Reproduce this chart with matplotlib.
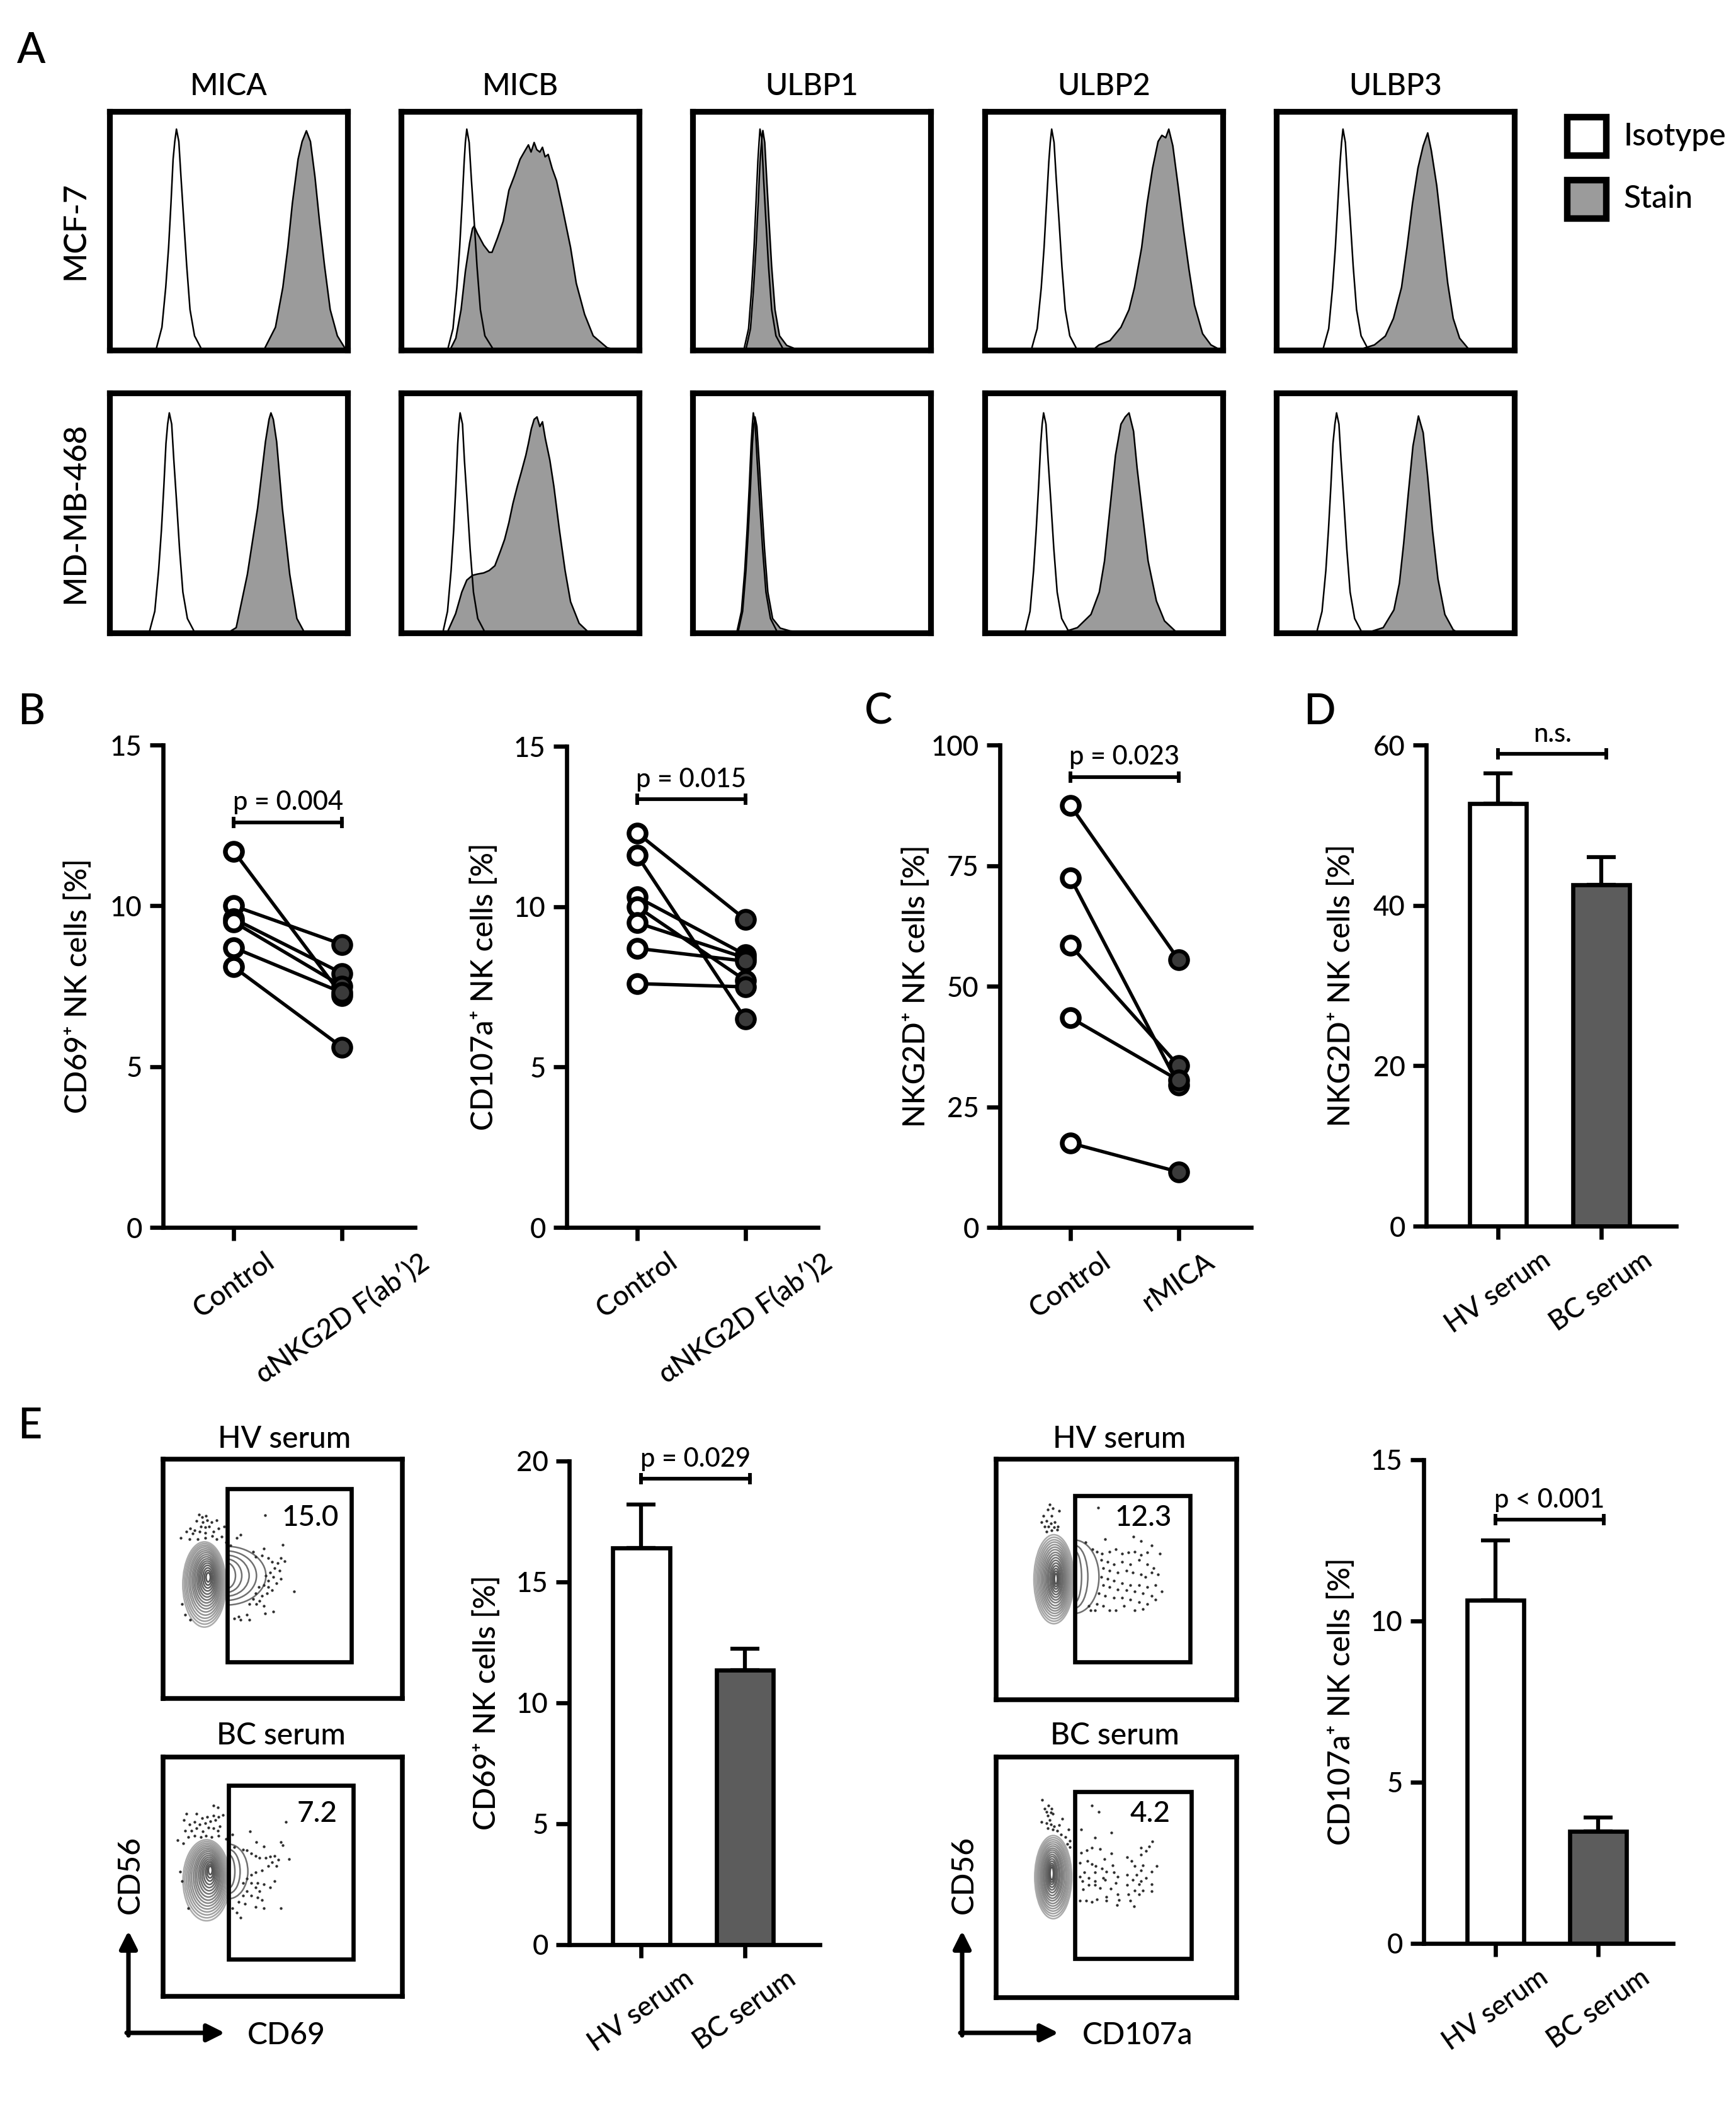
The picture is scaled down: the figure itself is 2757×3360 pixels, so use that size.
import matplotlib.pyplot as plt
import numpy as np
from matplotlib.patches import Ellipse, Arc, Rectangle

plt.rcParams['font.family'] = ['Lato', 'DejaVu Sans']
plt.rcParams['font.weight'] = 'medium'

# ---------------- A: histograms (x, y in % of the plot box) ----------------
markers = ['MICA', 'MICB', 'ULBP1', 'ULBP2', 'ULBP3']
cell_lines = ['MCF-7', 'MD-MB-468']

mica_mcf7_iso_x = [18.0, 19.6, 22.0, 23.6, 24.8, 25.8, 26.7, 27.4, 28.1, 29.1, 30.0, 31.2, 32.4, 33.8, 35.7, 38.5]
mica_mcf7_iso_y = [0, 0.5, 9.6, 26.3, 43, 61.5, 80, 87.4, 92.6, 87.4, 72.6, 54, 35.5, 17, 6, 0.7]
mica_mcf7_st_x = [65.0, 69.7, 72.8, 74.9, 76.8, 79.2, 80.9, 82.7, 84.4, 86.3, 88.2, 90.3, 92.7, 95.7, 98.6]
mica_mcf7_st_y = [0.4, 9.6, 26.3, 43, 61.5, 80, 87.4, 91.9, 87.4, 72.6, 54, 35.5, 17, 6, 1.3]
mica_mda_iso_x = [16.6, 19.0, 20.6, 21.8, 22.8, 23.7, 24.4, 25.1, 26.1, 27.0, 28.2, 29.4, 30.8, 32.7, 35.5]
mica_mda_iso_y = [0, 9, 26, 43, 61, 79, 87, 91.7, 87, 72, 54, 35, 17, 6, 0.7]
mica_mda_st_x = [49.6, 53.2, 57.9, 62.2, 65.5, 67.0, 67.8, 68.8, 70.2, 72.6, 75.7, 78.7, 81.6]
mica_mda_st_y = [0, 2.2, 24.4, 52, 79.7, 89, 91.7, 89, 79.7, 52, 24.4, 6, 0.7]

micb_mcf7_iso_x = [19.5, 21.8, 23.4, 24.6, 25.6, 26.5, 27.0, 27.6, 28.6, 29.5, 30.7, 31.9, 33.3, 35.2, 38.5]
micb_mcf7_iso_y = [0, 9, 26, 43, 61, 79, 87, 92.6, 87, 72, 54, 35, 17, 6, 0.7]
micb_mcf7_st_x = [20.5, 23.0, 25.2, 27.0, 28.8, 30.0, 30.7, 32.0, 34.7, 37.0, 38.2, 40.5, 42.9, 45.3, 47.6,
                  50.0, 52.3, 53.5, 54.6, 55.9, 57.0, 58.3, 59.4, 60.5, 61.8, 63.5, 65.3, 67.7, 71.2, 73.6,
                  77.1, 80.7, 86.6, 91.3]
micb_mcf7_st_y = [0, 5, 17, 33, 45, 51, 52, 49, 44, 41, 41, 47, 54, 67, 73,
                  80, 84, 86, 83, 87, 84, 83, 85, 81, 82, 76, 71, 60, 43, 28,
                  15, 6, 1, 0]
micb_mda_iso_x = [17.5, 19.5, 21.0, 22.1, 23.0, 23.8, 24.3, 24.8, 25.8, 26.6, 27.8, 29.0, 30.4, 32.2, 35.0]
micb_mda_iso_y = [0, 9, 26, 43, 61, 79, 87, 91.7, 87, 72, 54, 35, 17, 6, 0.7]
micb_mda_st_x = [19.3, 22.9, 25.5, 27.6, 30.0, 32.0, 34.7, 37.0, 39.4, 41.7, 43.5, 45.3, 47.0, 48.8, 50.5,
                 52.4, 53.5, 54.7, 55.9, 57.1, 58.3, 59.4, 60.6, 62.5, 64.2, 66.5, 68.9, 71.2, 74.8, 78.3, 81.8]
micb_mda_st_y = [0, 8, 17, 22, 24, 24.5, 25, 26, 28, 34, 39, 46, 54, 61, 67,
                 74, 79, 85, 89, 90, 86, 88, 81, 72, 61, 43, 26, 13, 4, 0.7, 0]

ulbp1_mcf7_iso_x = [21.5, 23.5, 24.8, 25.8, 26.6, 27.4, 27.9, 28.3, 29.0, 29.8, 30.8, 31.9, 33.2, 35.0, 38.0]
ulbp1_mcf7_iso_y = [0, 9, 26, 43, 61, 79, 87, 92.6, 89, 72, 54, 35, 17, 6, 0.5]
ulbp1_mcf7_st_x = [22.3, 24.3, 25.6, 26.6, 27.5, 28.3, 28.9, 29.5, 30.3, 31.1, 32.1, 33.2, 34.6, 36.5, 39.5, 42.5, 45.0]
ulbp1_mcf7_st_y = [0, 9, 26, 43, 61, 79, 87, 92, 87, 72, 54, 35, 17, 6, 2, 0.8, 0]
ulbp1_mda_iso_x = [18.5, 20.5, 21.9, 22.9, 23.8, 24.6, 25.1, 25.5, 26.3, 27.1, 28.2, 29.4, 30.8, 32.7, 35.5]
ulbp1_mda_iso_y = [0, 9, 26, 43, 61, 79, 87, 91.7, 87, 72, 54, 35, 17, 6, 0.5]
ulbp1_mda_st_x = [19.0, 21.0, 22.4, 23.4, 24.3, 25.1, 25.7, 26.2, 27.0, 27.9, 29.0, 30.2, 31.6, 33.6, 36.8, 41.0, 46.0, 49.0]
ulbp1_mda_st_y = [0, 9, 26, 43, 61, 79, 87, 90, 86, 72, 54, 35, 17, 6, 2, 0.8, 0.4, 0]

ulbp2_mcf7_iso_x = [19.5, 22.0, 23.7, 24.9, 25.9, 26.9, 27.5, 28.1, 29.1, 30.0, 31.2, 32.4, 33.8, 35.7, 38.5]
ulbp2_mcf7_iso_y = [0, 9, 26, 43, 61, 79, 87, 92.6, 87, 72, 54, 35, 17, 6, 0.7]
ulbp2_mcf7_st_x = [45.8, 48.0, 52.6, 57.2, 60.6, 62.9, 65.9, 68.2, 70.5, 72.8, 74.4, 76.0, 77.3, 79.0, 81.2,
                   83.5, 85.8, 88.1, 91.5, 95.0, 98.4]
ulbp2_mcf7_st_y = [0.4, 2.2, 4, 9.6, 17, 26.3, 43, 61.5, 76.3, 87.4, 90, 89, 92.6, 85.6, 68.9,
                   50.4, 33.7, 18.9, 6.9, 2.2, 0.4]
ulbp2_mda_iso_x = [16.8, 19.0, 20.5, 21.6, 22.6, 23.5, 24.1, 24.7, 25.7, 26.6, 27.8, 29.0, 30.4, 32.3, 35.2]
ulbp2_mda_iso_y = [0, 9, 26, 43, 61, 79, 87, 91.7, 87, 72, 54, 35, 17, 6, 0.7]
ulbp2_mda_st_x = [33.2, 38.9, 44.6, 48.1, 50.3, 52.6, 54.9, 57.2, 59.0, 60.6, 62.5, 64.0, 66.4, 68.6, 72.1, 75.5, 80.1]
ulbp2_mda_st_y = [0.4, 2.2, 7.7, 17, 30, 52, 74, 87, 90, 91.7, 84, 68.6, 48.3, 30, 13.3, 5, 0.7]

ulbp3_mcf7_iso_x = [19.5, 22.0, 23.6, 24.8, 25.8, 26.8, 27.4, 28.0, 29.0, 29.9, 31.1, 32.3, 33.7, 35.6, 38.4]
ulbp3_mcf7_iso_y = [0, 9, 26, 43, 61, 79, 87, 92.6, 87, 72, 54, 35, 17, 6, 0.7]
ulbp3_mcf7_st_x = [35.5, 41.2, 45.8, 49.2, 52.6, 54.9, 57.2, 59.5, 61.7, 63.6, 65.1, 67.4, 69.7, 72.0, 74.3, 77.0, 80.6]
ulbp3_mcf7_st_y = [0.4, 2.2, 5.9, 13.3, 26.3, 43, 61.5, 76.3, 85.6, 91, 83.7, 68.9, 48.5, 28.1, 13.3, 5, 0.7]
ulbp3_mda_iso_x = [16.9, 19.2, 20.8, 21.9, 22.9, 23.8, 24.6, 25.3, 26.3, 27.2, 28.4, 29.6, 31.0, 32.9, 35.7]
ulbp3_mda_iso_y = [0, 9, 26, 43, 61, 79, 87, 91.7, 87, 72, 54, 35, 17, 6, 0.7]
ulbp3_mda_st_x = [39.2, 44.9, 49.4, 51.7, 53.5, 55.4, 57.4, 59.7, 61.7, 63.6, 65.6, 67.9, 70.8, 74.3, 76.5]
ulbp3_mda_st_y = [0.4, 2.2, 9.6, 20.7, 37.3, 57.6, 77.9, 90.4, 83.4, 65, 42.8, 22.5, 7.7, 1.3, 0]

# ---------------- B / C: paired values ----------------
paired_groups = ['Control', 'αNKG2D F(ab′)2']
cd69_control = [11.7, 10.0, 9.6, 9.5, 8.7, 8.1]
cd69_anti = [7.2, 8.8, 7.9, 7.5, 7.3, 5.6]
cd107_control = [12.3, 11.6, 10.3, 10.0, 9.5, 8.7, 7.6]
cd107_anti = [9.6, 6.5, 8.5, 7.7, 8.4, 8.3, 7.5]
rmica_groups = ['Control', 'rMICA']
nkg2d_control = [87.5, 72.5, 58.5, 43.5, 17.5]
nkg2d_rmica = [55.5, 29.5, 33.5, 30.5, 11.5]

# ---------------- D / E: bar means + SEM ----------------
serum_groups = ['HV serum', 'BC serum']
nkg2d_serum_mean = [52.7, 42.6]
nkg2d_serum_sem = [3.8, 3.4]
cd69_serum_mean = [16.4, 11.35]
cd69_serum_sem = [1.8, 0.9]
cd107_serum_mean = [10.65, 3.47]
cd107_serum_sem = [1.85, 0.43]

# ---------------- E: flow plots (plot units, y measured from top) ----------------
hv69_gate = [305, 140, 898, 965]
bc69_gate = [312, 135, 905, 963]
hv107_gate = [375, 175, 925, 965]
bc107_gate = [375, 165, 930, 960]
gate_values = ['15.0', '7.2', '12.3', '4.2']

hv69_cx = [197, 198, 199, 200, 202, 203, 205, 206, 207, 209, 210, 211, 212, 213, 214, 215]
hv69_cy = [597, 594, 591, 588, 585, 582, 579, 577, 575, 573, 571, 569, 567, 566, 565, 563]
hv69_rx = [103, 97, 91, 85, 79, 73, 67, 61, 55, 49, 43, 37, 31, 24, 17, 10]
hv69_ry = [203, 192, 181, 170, 158, 146, 134, 122, 110, 98, 86, 74, 61, 48, 35, 22]
hv69_tail_rx = [190, 145, 110, 75, 45]
hv69_tail_ry = [140, 118, 98, 80, 62]
bc69_cx = [207, 208, 209, 210, 211, 212, 214, 215, 216, 218, 219, 220, 221, 223, 224, 225]
bc69_cy = [587, 584, 581, 578, 575, 572, 569, 566, 563, 560, 557, 554, 551, 547, 544, 540]
bc69_rx = [112, 105, 98, 91, 84, 77, 70, 63, 56, 49, 42, 35, 28, 21, 15, 9]
bc69_ry = [193, 182, 171, 160, 149, 138, 127, 116, 104, 92, 80, 68, 56, 44, 32, 20]
bc69_tail_rx = [92, 55, 30]
bc69_tail_ry = [130, 105, 80]
hv107_cx = [275, 276, 277, 278, 279, 280, 281, 282, 283, 284, 284, 285, 285, 285, 285, 285]
hv107_cy = [572, 572, 572, 571, 571, 571, 571, 571, 570, 570, 570, 570, 570, 570, 570, 570]
hv107_rx = [95, 89, 83, 77, 71, 65, 59, 53, 47, 41, 35, 29, 23, 17, 12, 7]
hv107_ry = [212, 200, 188, 176, 164, 152, 140, 127, 114, 101, 88, 75, 62, 49, 37, 25]
hv107_tail_rx = [118, 65, 35]
hv107_tail_ry = [175, 150, 125]
bc107_cx = [272, 272, 271, 271, 270, 270, 269, 268, 268, 267, 267, 266, 266, 265, 265, 265]
bc107_cy = [572, 571, 570, 569, 568, 567, 566, 564, 563, 562, 560, 559, 558, 557, 556, 555]
bc107_rx = [88, 83, 78, 73, 68, 62, 56, 50, 44, 38, 32, 26, 21, 16, 12, 8]
bc107_ry = [198, 187, 176, 165, 154, 143, 132, 121, 110, 98, 86, 74, 62, 50, 40, 30]
bc107_tail_rx = []
bc107_tail_ry = []

hv69_dots_x = [170, 185, 205, 160, 190, 210, 230, 255, 180, 200, 220, 130, 150, 175, 200, 240, 265, 110, 140, 85,
               125, 165, 200, 235, 255, 280, 290, 350, 370, 300, 320,
               485, 570, 480, 430, 440, 470, 500, 520, 545, 560, 580, 530, 555, 510, 490, 525, 500, 540, 560, 480,
               500, 520, 495, 470, 460, 430, 410, 445, 480, 525, 485, 400, 360, 340, 370, 410, 625, 455, 440,
               90, 105, 130]
hv69_dots_y = [265, 275, 270, 295, 300, 290, 300, 290, 320, 325, 320, 330, 340, 345, 350, 345, 330, 345, 355, 375,
               380, 380, 375, 365, 380, 370, 320, 375, 360, 395, 410,
               268, 408, 425, 440, 465, 460, 470, 490, 495, 470, 485, 520, 530, 540, 555, 560, 580, 590, 570, 600,
               610, 625, 640, 650, 675, 665, 690, 690, 700, 725, 735, 740, 750, 760, 765, 765, 630, 610, 640,
               690, 740, 765]
bc69_dots_x = [240, 260, 110, 160, 185, 210, 240, 265, 285, 100, 125, 150, 175, 200, 225, 250, 270, 105, 135, 160,
               190, 215, 240, 260, 120, 150, 180, 205, 230, 265, 70, 95, 300, 330, 415,
               585, 445, 480, 560, 570, 340, 380, 400, 420, 440, 460, 490, 510, 530, 550, 600, 540, 520, 500, 470,
               440, 420, 400, 380, 420, 450, 480, 510, 530, 400, 420, 450, 470, 380, 360, 390, 440, 480, 560, 350,
               370, 330, 80, 90, 120, 460, 440]
bc69_dots_y = [230, 240, 270, 270, 290, 285, 280, 285, 275, 300, 320, 310, 320, 315, 305, 300, 330, 350, 350, 340,
               355, 335, 340, 350, 380, 375, 380, 375, 380, 375, 395, 410, 390, 370, 355,
               310, 405, 425, 405, 420, 430, 440, 445, 460, 470, 480, 480, 475, 470, 490, 485, 520, 500, 520, 540,
               550, 560, 580, 600, 600, 600, 605, 620, 590, 640, 660, 670, 680, 660, 690, 700, 715, 720, 720, 740,
               765, 720, 545, 590, 720, 640, 620]
hv107_dots_x = [255, 245, 270, 300, 225, 265, 215, 240, 260, 280, 230, 250, 275, 295, 240, 265, 290,
                485, 520, 655, 690, 740, 425, 460, 480, 505, 540, 570, 600, 630, 660, 690, 720, 780, 500, 530, 560,
                600, 640, 680, 720, 750, 770, 510, 540, 580, 620, 650, 690, 710, 740, 500, 530, 560, 600, 640, 680,
                720, 760, 790, 510, 540, 580, 620, 660, 700, 740, 490, 520, 560, 600, 640, 680, 720, 760, 480, 510,
                540, 570, 610, 660, 700, 470, 450, 440]
hv107_dots_y = [215, 240, 235, 245, 270, 270, 300, 295, 305, 300, 320, 320, 325, 320, 345, 340, 335,
                232, 382, 370, 390, 410, 395, 430, 440, 450, 440, 430, 450, 445, 440, 455, 445, 450, 480, 490, 500,
                490, 500, 480, 500, 520, 550, 520, 530, 540, 530, 540, 550, 560, 540, 560, 570, 580, 590, 600, 600,
                610, 600, 630, 600, 610, 620, 625, 630, 640, 650, 640, 650, 660, 660, 670, 680, 690, 670, 690, 700,
                720, 720, 700, 720, 715, 720, 720, 700]
bc107_dots_x = [218, 250, 265, 230, 240, 260, 270, 245, 255, 215, 240, 260, 275, 300, 315, 245, 270, 290, 345, 310,
                330, 350, 350, 340,
                455, 490, 405, 548, 470, 745, 730, 690, 455, 495, 432, 405, 715, 548, 690, 625, 515, 645, 435, 400,
                455, 475, 555, 660, 700, 765, 505, 690, 740, 420, 470, 525, 560, 625, 670, 715, 400, 440, 510, 580,
                410, 470, 520, 650, 690, 740, 440, 470, 570, 625, 680, 415, 495, 545, 660, 700, 740, 580, 630, 680,
                400, 430, 455, 480, 525, 525, 585, 640, 575, 658]
bc107_dots_y = [205, 230, 245, 245, 260, 265, 270, 280, 300, 310, 315, 320, 330, 325, 295, 340, 345, 350, 345, 370,
                380, 400, 430, 415,
                230, 262, 345, 360, 385, 402, 425, 432, 432, 438, 445, 455, 447, 460, 465, 478, 485, 495, 495, 505,
                510, 520, 515, 520, 515, 520, 530, 540, 545, 550, 550, 545, 550, 560, 560, 575, 570, 575, 575, 570,
                590, 590, 585, 585, 590, 605, 610, 610, 600, 610, 605, 630, 625, 628, 635, 635, 640, 655, 655, 655,
                685, 685, 690, 678, 665, 685, 680, 685, 705, 712]

# ---------------------------------------------------------------------------
W, H = 2757, 3360
fig = plt.figure(figsize=(W / 300, H / 300), dpi=300)


def add_ax(x0, y0, x1, y1):
    return fig.add_axes([x0 / W, 1 - y1 / H, (x1 - x0) / W, (y1 - y0) / H])


# ---- panel A
curves = {
    ('MICA', 'MCF-7'): (mica_mcf7_st_x, mica_mcf7_st_y, mica_mcf7_iso_x, mica_mcf7_iso_y),
    ('MICA', 'MD-MB-468'): (mica_mda_st_x, mica_mda_st_y, mica_mda_iso_x, mica_mda_iso_y),
    ('MICB', 'MCF-7'): (micb_mcf7_st_x, micb_mcf7_st_y, micb_mcf7_iso_x, micb_mcf7_iso_y),
    ('MICB', 'MD-MB-468'): (micb_mda_st_x, micb_mda_st_y, micb_mda_iso_x, micb_mda_iso_y),
    ('ULBP1', 'MCF-7'): (ulbp1_mcf7_st_x, ulbp1_mcf7_st_y, ulbp1_mcf7_iso_x, ulbp1_mcf7_iso_y),
    ('ULBP1', 'MD-MB-468'): (ulbp1_mda_st_x, ulbp1_mda_st_y, ulbp1_mda_iso_x, ulbp1_mda_iso_y),
    ('ULBP2', 'MCF-7'): (ulbp2_mcf7_st_x, ulbp2_mcf7_st_y, ulbp2_mcf7_iso_x, ulbp2_mcf7_iso_y),
    ('ULBP2', 'MD-MB-468'): (ulbp2_mda_st_x, ulbp2_mda_st_y, ulbp2_mda_iso_x, ulbp2_mda_iso_y),
    ('ULBP3', 'MCF-7'): (ulbp3_mcf7_st_x, ulbp3_mcf7_st_y, ulbp3_mcf7_iso_x, ulbp3_mcf7_iso_y),
    ('ULBP3', 'MD-MB-468'): (ulbp3_mda_st_x, ulbp3_mda_st_y, ulbp3_mda_iso_x, ulbp3_mda_iso_y),
}
box_left = [174, 637, 1100, 1564, 2027]
box_rows = [(177, 556), (624, 1005)]
for i, m in enumerate(markers):
    for j, cl in enumerate(cell_lines):
        ax = add_ax(box_left[i], box_rows[j][0], box_left[i] + 378, box_rows[j][1])
        sx, sy, ix, iy = curves[(m, cl)]
        ax.fill_between(sx, sy, 0, color='#9b9b9b', lw=0)
        ax.plot(sx, sy, color='black', lw=0.6)
        ax.plot(ix, iy, color='black', lw=0.6)
        ax.set_xlim(0, 100)
        ax.set_ylim(0, 100)
        ax.set_xticks([])
        ax.set_yticks([])
        for s in ax.spines.values():
            s.set_linewidth(2.2)


# ---- helpers for B-E
def style_axes(ax, ymax, yticks, xlim, labels):
    ax.set_xlim(*xlim)
    ax.set_ylim(0, ymax)
    ax.set_yticks(yticks)
    ax.set_xticks([0, 1])
    ax.set_xticklabels(labels, rotation=35, ha='center', fontsize=10.5)
    ax.spines[['top', 'right']].set_visible(False)
    ax.spines[['left', 'bottom']].set_linewidth(1.6)
    ax.tick_params(width=1.6, length=5, labelsize=10.5, pad=3)
    ax.patch.set_alpha(0)


def bracket(ax, x0, x1, y, txt):
    ax.plot([x0, x1], [y, y], color='black', lw=1.4, clip_on=False)
    ax.plot([x0, x1], [y, y], ls='none', marker='|', ms=4.5, mew=1.4, color='black', clip_on=False)
    ax.annotate(txt, (0.5 * (x0 + x1), y), xytext=(0, 3), textcoords='offset points',
                ha='center', va='bottom', fontsize=10)


def paired(ax, ctrl, treat):
    for a, b in zip(ctrl, treat):
        ax.plot([0, 1], [a, b], color='black', lw=1.3, zorder=2)
    ax.plot(np.zeros(len(ctrl)), ctrl, 'o', mfc='white', mec='black', ms=6.5, mew=1.8, zorder=3, clip_on=False)
    ax.plot(np.ones(len(treat)), treat, 'o', mfc='#3a3a3a', mec='black', ms=6.8, mew=1.5, zorder=3, clip_on=False)


def bars(ax, mean, sem):
    x = np.arange(len(mean))
    ax.errorbar(x, mean, yerr=[np.zeros(len(sem)), sem], fmt='none', ecolor='black',
                elinewidth=1.5, capsize=5.5, capthick=1.5, zorder=1)
    ax.bar(x, mean, width=0.55, color=['white', '#5c5c5c'], edgecolor='black', linewidth=1.6, zorder=2)


pair_xlim = (-0.65, 1.67)
bar_xlim = (-0.695, 1.725)

# ---- panel B
ax = add_ax(259, 1183, 659, 1949)
paired(ax, cd69_control, cd69_anti)
style_axes(ax, 15, [0, 5, 10, 15], pair_xlim, paired_groups)
bracket(ax, 0, 1, 12.6, 'p = 0.004')

ax = add_ax(900, 1185, 1299, 1949)
paired(ax, cd107_control, cd107_anti)
style_axes(ax, 15, [0, 5, 10, 15], pair_xlim, paired_groups)
bracket(ax, 0, 1, 13.35, 'p = 0.015')

# ---- panel C
ax = add_ax(1588, 1183, 1987, 1949)
paired(ax, nkg2d_control, nkg2d_rmica)
style_axes(ax, 100, [0, 25, 50, 75, 100], pair_xlim, rmica_groups)
bracket(ax, 0, 1, 93.4, 'p = 0.023')

# ---- panel D
ax = add_ax(2265, 1183, 2662, 1947)
bars(ax, nkg2d_serum_mean, nkg2d_serum_sem)
style_axes(ax, 60, [0, 20, 40, 60], bar_xlim, serum_groups)
bracket(ax, 0, 1.05, 58.9, 'n.s.')

# ---- panel E bars
ax = add_ax(904, 2320, 1302, 3088)
bars(ax, cd69_serum_mean, cd69_serum_sem)
style_axes(ax, 20, [0, 5, 10, 15, 20], bar_xlim, serum_groups)
bracket(ax, 0, 1.05, 19.27, 'p = 0.029')

ax = add_ax(2261, 2318, 2657, 3086)
bars(ax, cd107_serum_mean, cd107_serum_sem)
style_axes(ax, 15, [0, 5, 10, 15], bar_xlim, serum_groups)
bracket(ax, 0, 1.05, 13.14, 'p < 0.001')

# ---- panel E flow plots
contour_grays = ['#ababab', '#a5a5a5', '#a0a0a0', '#9a9a9a', '#949494', '#8e8e8e', '#888888', '#828282',
                 '#7c7c7c', '#767676', '#707070', '#6a6a6a', '#646464', '#5e5e5e', '#585858', '#525252']
flow = [
    ((259, 2317, 639, 2697), 1140, hv69_gate, gate_values[0], (700, 280),
     (hv69_cx, hv69_cy, hv69_rx, hv69_ry), (300, 555, hv69_tail_rx, hv69_tail_ry), (hv69_dots_x, hv69_dots_y)),
    ((259, 2790, 639, 3170), 1140, bc69_gate, gate_values[1], (735, 270),
     (bc69_cx, bc69_cy, bc69_rx, bc69_ry), (312, 545, bc69_tail_rx, bc69_tail_ry), (bc69_dots_x, bc69_dots_y)),
    ((1582, 2317, 1964, 2699), 1146, hv107_gate, gate_values[2], (700, 280),
     (hv107_cx, hv107_cy, hv107_rx, hv107_ry), (372, 560, hv107_tail_rx, hv107_tail_ry), (hv107_dots_x, hv107_dots_y)),
    ((1582, 2790, 1964, 3172), 1146, bc107_gate, gate_values[3], (735, 270),
     (bc107_cx, bc107_cy, bc107_rx, bc107_ry), (352, 560, bc107_tail_rx, bc107_tail_ry), (bc107_dots_x, bc107_dots_y)),
]
for rect, lim, gate, val, vpos, ell, tail, dots in flow:
    ax = add_ax(*rect)
    ax.set_xlim(0, lim)
    ax.set_ylim(lim, 0)
    ax.set_xticks([])
    ax.set_yticks([])
    for s in ax.spines.values():
        s.set_linewidth(1.8)
    for k, (cx, cy, rx, ry) in enumerate(zip(*ell)):
        ax.add_patch(Ellipse((cx, cy), 2 * rx, 2 * ry, fill=False, ec=contour_grays[k], lw=0.6))
    for rx, ry in zip(tail[2], tail[3]):
        ax.add_patch(Arc((tail[0], tail[1]), 2 * rx, 2 * ry, theta1=-90, theta2=90, color='#707070', lw=0.6))
    ax.scatter(dots[0], dots[1], s=1.1, color='#2e2e2e', lw=0)
    ax.add_patch(Rectangle((gate[0], gate[1]), gate[2] - gate[0], gate[3] - gate[1],
                           fill=False, ec='black', lw=1.6, zorder=5))
    ax.text(vpos[0], vpos[1], val, ha='center', va='center', fontsize=11)

# ---- overlay: letters, titles, labels, legend, arrows
ov = fig.add_axes([0, 0, 1, 1])
ov.set_xlim(0, W)
ov.set_ylim(H, 0)
ov.axis('off')
ov.patch.set_alpha(0)

for lab, x, y in [('A', 50, 81), ('B', 50, 1131), ('C', 1395, 1131), ('D', 2095, 1131), ('E', 47, 2265)]:
    ov.text(x, y, lab, ha='center', va='center', fontsize=16)

for i, m in enumerate(markers):
    ov.text(box_left[i] + 189, 137, m, ha='center', va='center', fontsize=11.5)
ov.text(120, 366, cell_lines[0], rotation=90, ha='center', va='center', fontsize=12)
ov.text(120, 814, cell_lines[1], rotation=90, ha='center', va='center', fontsize=12)

ov.add_patch(Rectangle((2489, 186), 62, 61, fc='white', ec='black', lw=2.5))
ov.add_patch(Rectangle((2489, 286), 62, 61, fc='#9b9b9b', ec='black', lw=2.5))
ov.text(2579, 217, 'Isotype', ha='left', va='center', fontsize=12)
ov.text(2579, 316, 'Stain', ha='left', va='center', fontsize=12)

for x, y, t in [(124, 1566, 'CD69⁺ NK cells [%]'), (769, 1567, 'CD107a⁺ NK cells [%]'),
                (1455, 1566, 'NKG2D⁺ NK cells [%]'), (2130, 1565, 'NKG2D⁺ NK cells [%]'),
                (773, 2704, 'CD69⁺ NK cells [%]'), (2130, 2702, 'CD107a⁺ NK cells [%]')]:
    ov.text(x, y, t, rotation=90, ha='center', va='center', fontsize=11.5)

for x, y, t in [(452, 2285, 'HV serum'), (446, 2756, 'BC serum'),
                (1778, 2285, 'HV serum'), (1770, 2756, 'BC serum')]:
    ov.text(x, y, t, ha='center', va='center', fontsize=11.5)

for ax0, xlab in [(204, 'CD69'), (1528, 'CD107a')]:
    ov.annotate('', xy=(ax0, 3066), xytext=(ax0, 3232),
                arrowprops=dict(arrowstyle='-|>', lw=1.7, color='black', mutation_scale=14, shrinkA=0, shrinkB=0))
    ov.annotate('', xy=(ax0 + 153, 3228), xytext=(ax0 - 3, 3228),
                arrowprops=dict(arrowstyle='-|>', lw=1.7, color='black', mutation_scale=14, shrinkA=0, shrinkB=0))
    ov.text(ax0 + 3, 2977, 'CD56', rotation=90, ha='center', va='center', fontsize=11.5)
    ov.text(ax0 + (251 if xlab == 'CD69' else 279), 3232, xlab, ha='center', va='center', fontsize=11.5)

fig.savefig('out.png', dpi=300)
